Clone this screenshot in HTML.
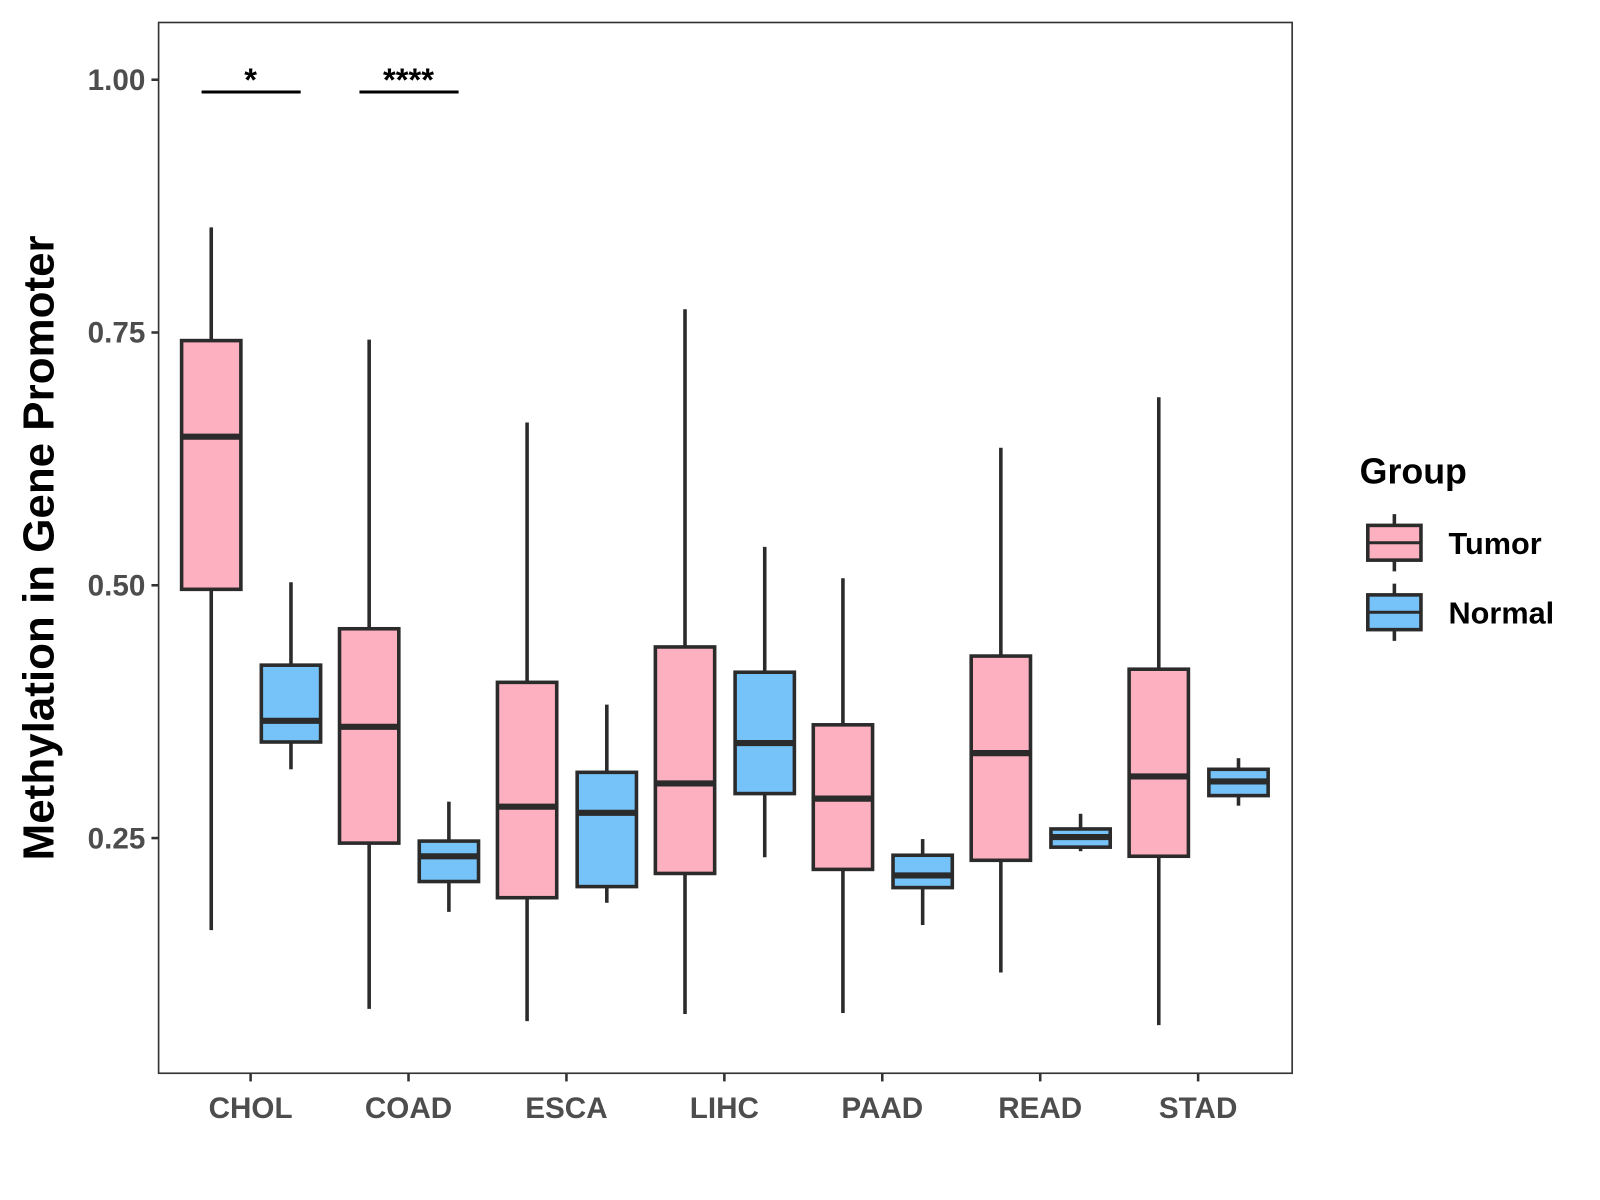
<!DOCTYPE html>
<html><head><meta charset="utf-8"><style>
html,body{margin:0;padding:0;background:#fff;}
svg{display:block;}
text{font-family:"Liberation Sans",Arial,sans-serif;font-weight:bold;}
</style></head><body>
<svg id="chart" width="1600" height="1200" viewBox="0 0 1565 1174" xmlns="http://www.w3.org/2000/svg"></svg>
<script>
const categories = ["CHOL","COAD","ESCA","LIHC","PAAD","READ","STAD"];
const tumorMin = [0.159,0.081,0.069,0.076,0.077,0.117,0.065];
const tumorQ1 = [0.496,0.245,0.191,0.215,0.219,0.228,0.232];
const tumorMed = [0.647,0.360,0.281,0.304,0.289,0.334,0.311];
const tumorQ3 = [0.742,0.457,0.404,0.439,0.362,0.430,0.417];
const tumorMax = [0.854,0.743,0.661,0.773,0.507,0.636,0.686];
const normalMin = [0.318,0.177,0.186,0.231,0.164,0.237,0.282];
const normalQ1 = [0.345,0.207,0.202,0.294,0.201,0.241,0.292];
const normalMed = [0.366,0.232,0.275,0.344,0.213,0.251,0.306];
const normalQ3 = [0.421,0.247,0.315,0.414,0.233,0.259,0.318];
const normalMax = [0.503,0.286,0.382,0.538,0.249,0.274,0.329];
const yTicks = [0.25,0.50,0.75,1.00];
const yTickLabels = ["0.25","0.50","0.75","1.00"];
const sigLabels = ["*","****"];
const sigCats = ["CHOL","COAD"];

const NS="http://www.w3.org/2000/svg";
const svg=document.getElementById('chart');
const P={l:155,r:1264,t:22,b:1050};
function y(v){return 78+(1-v)*989.2;}
function x(i){return 245+i*154.5;}
function mk(tag,attrs,parent){const e=document.createElementNS(NS,tag);for(const k in attrs)e.setAttribute(k,attrs[k]);(parent||svg).appendChild(e);return e;}

const panel=mk('rect',{x:P.l,y:P.t,width:P.r-P.l,height:P.b-P.t,fill:'#fff',stroke:'#333',"stroke-width":1.6});



yTicks.forEach((v,i)=>{
  const t=mk('line',{x1:P.l-7,x2:P.l,y1:y(v),y2:y(v),stroke:'#333',"stroke-width":2.5});
  
  
  const l=mk('text',{x:P.l-13,y:y(v)+10,"text-anchor":'end',"font-size":29,fill:'#4d4d4d'});
  l.textContent=yTickLabels[i];
  
  
});
categories.forEach((c,i)=>{
  const t=mk('line',{x1:x(i),x2:x(i),y1:P.b,y2:P.b+8,stroke:'#333',"stroke-width":2.5});
  
  
  const l=mk('text',{x:x(i),y:1094,"text-anchor":'middle',"font-size":29,fill:'#4d4d4d'});
  l.textContent=c;
  
  
});

function box(cx,mn,q1,md,q3,mx,fill,name){
  const g=mk('g',{});
  
  
  mk('line',{x1:cx,x2:cx,y1:y(mx),y2:y(q3),stroke:'#2b2b2b',"stroke-width":3.5},g);
  mk('line',{x1:cx,x2:cx,y1:y(q1),y2:y(mn),stroke:'#2b2b2b',"stroke-width":3.5},g);
  mk('rect',{x:cx-29,y:y(q3),width:58,height:y(q1)-y(q3),fill:fill,stroke:'#2b2b2b',"stroke-width":3.5},g);
  mk('line',{x1:cx-29,x2:cx+29,y1:y(md),y2:y(md),stroke:'#2b2b2b',"stroke-width":6},g);
}
categories.forEach((c,i)=>{
  box(x(i)-38.5,tumorMin[i],tumorQ1[i],tumorMed[i],tumorQ3[i],tumorMax[i],'#fdb0c0','box-tumor-'+c.toLowerCase());
  box(x(i)+39.5,normalMin[i],normalQ1[i],normalMed[i],normalQ3[i],normalMax[i],'#76c3f9','box-normal-'+c.toLowerCase());
});

sigCats.forEach((c,k)=>{
  const i=categories.indexOf(c);
  const b=mk('line',{x1:x(i)-48,x2:x(i)+49,y1:90,y2:90,stroke:'#000',"stroke-width":3});
  
  
  const t=mk('text',{x:x(i),y:89,"text-anchor":'middle',"font-size":32,fill:'#000'});
  t.textContent=sigLabels[k];
  
  
});

const yt=mk('text',{x:0,y:0,transform:'translate(52,536) rotate(-90)',"text-anchor":'middle',"font-size":43,fill:'#000'});
yt.textContent='Methylation in Gene Promoter';



const lt=mk('text',{x:1330,y:473,"font-size":35,fill:'#000'});
lt.textContent='Group';


[['Tumor','#fdb0c0',531],['Normal','#76c3f9',599]].forEach(([n,f,cy])=>{
  const g=mk('g',{});
  
  
  mk('line',{x1:1364,x2:1364,y1:cy-28,y2:cy+28,stroke:'#2b2b2b',"stroke-width":3.5},g);
  mk('rect',{x:1338,y:cy-17,width:52,height:34,fill:f,stroke:'#2b2b2b',"stroke-width":3.5},g);
  mk('line',{x1:1338,x2:1390,y1:cy,y2:cy,stroke:'#2b2b2b',"stroke-width":3},g);
  const t=mk('text',{x:1417,y:cy+11,"font-size":30,fill:'#000'},g);
  t.textContent=n;
});
</script>
</body></html>
